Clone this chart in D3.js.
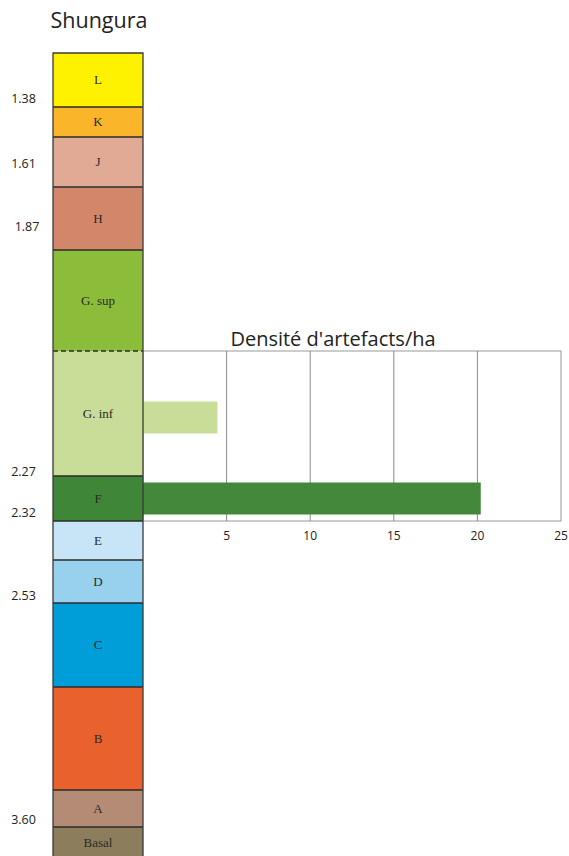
<!DOCTYPE html>
<html>
<head>
<meta charset="utf-8">
<script src="https://cdnjs.cloudflare.com/ajax/libs/d3/7.8.5/d3.min.js"></script>
<style>
  body { margin: 0; background: #fff; }
  svg { display: block; }
</style>
</head>
<body>
<div class="vis"></div>
<script>
    // stratigraphic members, top to bottom, with their thickness (column units)
    const layerNames = ["L", "K", "J", "H", "G. sup", "G. inf", "F", "E", "D", "C", "B", "A", "Basal"];
    const layerThickness = [54, 30, 50, 63, 101, 125, 45, 39, 43, 84, 103, 37, 32];
    const layerColors = ["#fff200", "#fbb52b", "#e0aa95", "#d3876a", "#8bbd3a", "#c8dd98", "#3f8639",
        "#c7e5f6", "#98d1ee", "#009ed9", "#e9622e", "#b48c76", "#8c7d5c"];

    // ages (Ma) and the depth where they sit in the column
    const ageLabels = ["1.38", "1.61", "1.87", "2.27", "2.32", "2.53", "3.60"];
    const ageDepths = [45, 110, 173, 418, 459, 542, 766];

    // artefact density per hectare
    const barLayers = ["G. inf", "F"];
    const barValues = [4.45, 20.2];
    const barColors = ["#c8dd98", "#44883c"];
    const densityTicks = [5, 10, 15, 20, 25];

    const dimensions = {
        width: 569,
        height: 856,
        colLeft: 53,
        colRight: 143,
        colTop: 53,
        chartRight: 561,
    }

    const svg = d3.select(".vis").append("svg")
        .attr("width", dimensions.width)
        .attr("height", dimensions.height);

    const tops = [];
    let acc = 0;
    layerThickness.forEach(t => { tops.push(acc); acc += t; });
    const total = acc;

    const y = d3.scaleLinear()
        .domain([0, total])
        .range([dimensions.colTop, dimensions.colTop + total]);

    const layers = layerNames.map((name, i) => ({
        name: name,
        top: tops[i],
        bottom: tops[i] + layerThickness[i],
        color: layerColors[i]
    }));

    // title
    svg.append("text")
        .attr("x", 99)
        .attr("y", 28)
        .attr("text-anchor", "middle")
        .style("font-family", "'Open Sans', sans-serif")
        .style("font-size", "21.5px")
        .style("fill", "#222")
        .text("Shungura");

    // density chart
    const gInf = layers[layerNames.indexOf("G. inf")];
    const fLay = layers[layerNames.indexOf("F")];
    const chartTop = y(gInf.top);
    const chartBottom = y(fLay.bottom);

    const x = d3.scaleLinear()
        .domain([0, 25])
        .range([dimensions.colRight, dimensions.chartRight]);

    svg.append("rect")
        .attr("x", x(0))
        .attr("y", chartTop)
        .attr("width", x(25) - x(0))
        .attr("height", chartBottom - chartTop)
        .style("fill", "none")
        .style("stroke", "#9a9a9a")
        .style("stroke-width", 1);

    svg.selectAll(".grid")
        .data(densityTicks.slice(0, -1))
        .enter().append("line")
        .attr("class", "grid")
        .attr("x1", d => x(d))
        .attr("x2", d => x(d))
        .attr("y1", chartTop)
        .attr("y2", chartBottom)
        .style("stroke", "#8a8a8a")
        .style("stroke-width", 1);

    svg.selectAll(".tick-label")
        .data(densityTicks)
        .enter().append("text")
        .attr("class", "tick-label")
        .attr("x", d => x(d))
        .attr("y", chartBottom + 19)
        .attr("text-anchor", "middle")
        .style("font-family", "'Open Sans', sans-serif")
        .style("font-size", "12px")
        .style("fill", "#222")
        .text(d => d);

    svg.append("text")
        .attr("x", 333)
        .attr("y", chartTop - 5)
        .attr("text-anchor", "middle")
        .style("font-family", "'Open Sans', sans-serif")
        .style("font-size", "20px")
        .style("fill", "#222")
        .text("Densité d'artefacts/ha");

    const barH = 32;
    svg.selectAll(".bar")
        .data(barLayers)
        .enter().append("rect")
        .attr("class", "bar")
        .attr("x", x(0))
        .attr("y", (d, i) => {
            const l = layers[layerNames.indexOf(d)];
            const mid = (y(l.top) + y(l.bottom)) / 2;
            return mid - barH / 2 + (i === 0 ? 4 : 0);
        })
        .attr("width", (d, i) => x(barValues[i]) - x(0))
        .attr("height", barH)
        .style("fill", (d, i) => barColors[i]);

    // column
    const col = svg.selectAll(".layer")
        .data(layers)
        .enter().append("g")
        .attr("class", "layer");

    col.append("rect")
        .attr("x", dimensions.colLeft)
        .attr("y", d => y(d.top))
        .attr("width", dimensions.colRight - dimensions.colLeft)
        .attr("height", d => y(d.bottom) - y(d.top))
        .style("fill", d => d.color)
        .style("stroke", "none");

    col.append("text")
        .attr("x", (dimensions.colLeft + dimensions.colRight) / 2)
        .attr("y", d => (y(d.top) + y(d.bottom)) / 2 + 4)
        .attr("text-anchor", "middle")
        .style("font-family", "'Liberation Serif', 'DejaVu Serif', serif")
        .style("font-size", "13px")
        .style("fill", "#2a2a2a")
        .text(d => d.name);

    // boundaries between members
    svg.selectAll(".boundary")
        .data(layers.slice(1))
        .enter().append("line")
        .attr("class", "boundary")
        .attr("x1", dimensions.colLeft)
        .attr("x2", dimensions.colRight)
        .attr("y1", d => y(d.top))
        .attr("y2", d => y(d.top))
        .style("stroke", "#2b2b2b")
        .style("stroke-width", 1.3)
        .style("stroke-dasharray", d => d.name === "G. inf" ? "5,3" : null);

    // outline of the column
    svg.append("path")
        .attr("d", `M${dimensions.colLeft},${dimensions.height + 2}V${y(0)}H${dimensions.colRight}V${dimensions.height + 2}`)
        .style("fill", "none")
        .style("stroke", "#3a3a3a")
        .style("stroke-width", 1.3);

    // ages
    svg.selectAll(".age")
        .data(ageLabels)
        .enter().append("text")
        .attr("class", "age")
        .attr("x", (d, i) => i === 2 ? 27 : 23.5)
        .attr("y", (d, i) => y(ageDepths[i]) + 4.5)
        .attr("text-anchor", "middle")
        .style("font-family", "'Open Sans', sans-serif")
        .style("font-size", "12.5px")
        .style("fill", "#222")
        .text(d => d);
</script>
</body>
</html>
